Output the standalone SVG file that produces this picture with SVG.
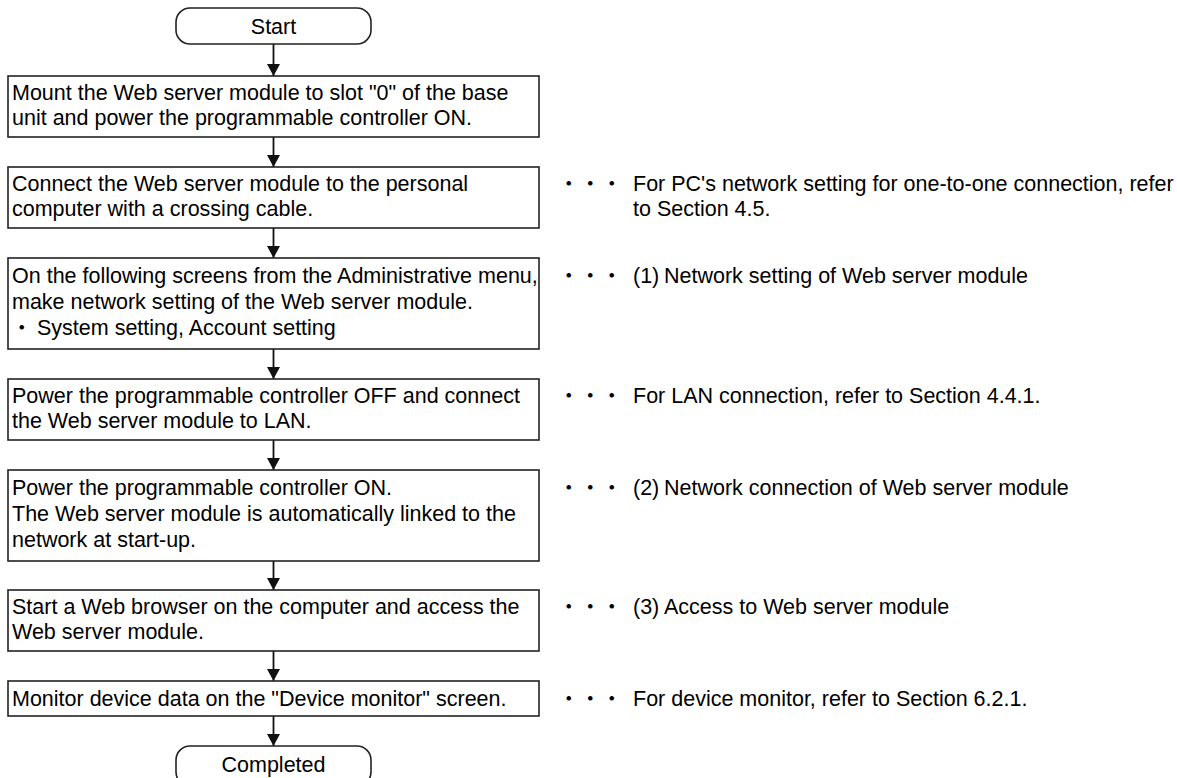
<svg xmlns="http://www.w3.org/2000/svg" width="1177" height="778" viewBox="0 0 1177 778">
<style>
text{font-family:"Liberation Sans",Arial,"Noto Sans CJK JP",sans-serif;font-size:21.5px;fill:#000}
.box{fill:#fff;stroke:#222;stroke-width:1.6}
.term{fill:#fff;stroke:#222;stroke-width:1.6}
.mid{text-anchor:middle}
.conn{stroke:#111;stroke-width:1.8;fill:none;marker-end:url(#ah)}
</style>
<defs>
<marker id="ah" viewBox="0 0 12 13" refX="12" refY="6.5" markerWidth="12" markerHeight="13" markerUnits="userSpaceOnUse" orient="auto">
<path d="M0,0 L12,6.5 L0,13 Z" fill="#111"/>
</marker>
</defs>
<rect width="1177" height="778" fill="#fff"/>
<g id="connectors">
<line class="conn" x1="273.5" y1="44" x2="273.5" y2="76"/>
<line class="conn" x1="273.5" y1="137" x2="273.5" y2="167"/>
<line class="conn" x1="273.5" y1="228" x2="273.5" y2="258"/>
<line class="conn" x1="273.5" y1="349" x2="273.5" y2="379"/>
<line class="conn" x1="273.5" y1="440" x2="273.5" y2="470"/>
<line class="conn" x1="273.5" y1="561" x2="273.5" y2="590"/>
<line class="conn" x1="273.5" y1="651" x2="273.5" y2="681"/>
<line class="conn" x1="273.5" y1="716" x2="273.5" y2="746"/>
</g>
<g id="start">
<rect class="term" x="176" y="8" width="195" height="36" rx="14" ry="14"/>
<text class="mid" x="273.5" y="34">Start</text>
</g>
<g id="step1">
<rect class="box" x="8" y="76" width="531" height="61"/>
<text x="12" y="100">Mount the Web server module to slot "0" of the base</text>
<text x="12" y="125">unit and power the programmable controller ON.</text>
</g>
<g id="step2">
<rect class="box" x="8" y="167" width="531" height="61"/>
<text x="12" y="191">Connect the Web server module to the personal</text>
<text x="12" y="216">computer with a crossing cable.</text>
</g>
<g id="step3">
<rect class="box" x="8" y="258" width="531" height="91"/>
<text x="12" y="283">On the following screens from the Administrative menu,</text>
<text x="12" y="309">make network setting of the Web server module.</text>
<text y="335"><tspan x="11">・</tspan><tspan x="37">System setting, Account setting</tspan></text>
</g>
<g id="step4">
<rect class="box" x="8" y="379" width="531" height="61"/>
<text x="12" y="403">Power the programmable controller OFF and connect</text>
<text x="12" y="428">the Web server module to LAN.</text>
</g>
<g id="step5">
<rect class="box" x="8" y="470" width="531" height="91"/>
<text x="12" y="495">Power the programmable controller ON.</text>
<text x="12" y="521">The Web server module is automatically linked to the</text>
<text x="12" y="547">network at start-up.</text>
</g>
<g id="step6">
<rect class="box" x="8" y="590" width="531" height="61"/>
<text x="12" y="614">Start a Web browser on the computer and access the</text>
<text x="12" y="639">Web server module.</text>
</g>
<g id="step7">
<rect class="box" x="8" y="681" width="531" height="35"/>
<text x="12" y="706">Monitor device data on the "Device monitor" screen.</text>
</g>
<g id="completed">
<rect class="term" x="176" y="746" width="195" height="40" rx="14" ry="14"/>
<text class="mid" x="273.5" y="772">Completed</text>
</g>
<g id="notes">
<text y="191"><tspan x="558">・・・</tspan><tspan x="633">For PC's network setting for one-to-one connection, refer</tspan></text>
<text x="633" y="216">to Section 4.5.</text>
<text y="283"><tspan x="558">・・・</tspan><tspan x="633">(1)</tspan><tspan x="664">Network setting of Web server module</tspan></text>
<text y="403"><tspan x="558">・・・</tspan><tspan x="633">For LAN connection, refer to Section 4.4.1.</tspan></text>
<text y="495"><tspan x="558">・・・</tspan><tspan x="633">(2)</tspan><tspan x="664">Network connection of Web server module</tspan></text>
<text y="614"><tspan x="558">・・・</tspan><tspan x="633">(3)</tspan><tspan x="664">Access to Web server module</tspan></text>
<text y="706"><tspan x="558">・・・</tspan><tspan x="633">For device monitor, refer to Section 6.2.1.</tspan></text>
</g>
</svg>
